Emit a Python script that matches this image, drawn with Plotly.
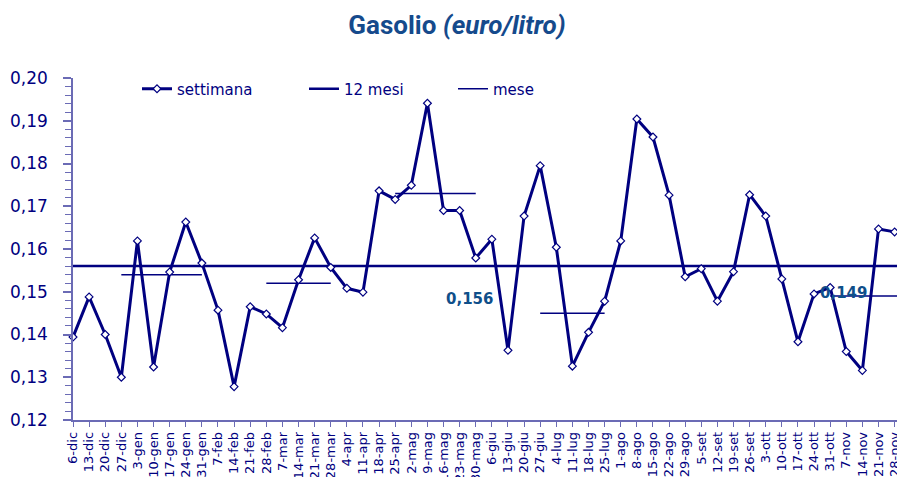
import plotly.graph_objects as go

categories = ["6-dic", "13-dic", "20-dic", "27-dic", "3-gen", "10-gen", "17-gen", "24-gen", "31-gen",
              "7-feb", "14-feb", "21-feb", "28-feb", "7-mar", "14-mar", "21-mar", "28-mar",
              "4-apr", "11-apr", "18-apr", "25-apr", "2-mag", "9-mag", "16-mag", "23-mag", "30-mag",
              "6-giu", "13-giu", "20-giu", "27-giu", "4-lug", "11-lug", "18-lug", "25-lug",
              "1-ago", "8-ago", "15-ago", "22-ago", "29-ago", "5-set", "12-set", "19-set", "26-set",
              "3-ott", "10-ott", "17-ott", "24-ott", "31-ott", "7-nov", "14-nov", "21-nov", "28-nov"]

settimana = [0.1394, 0.1488, 0.1400, 0.1300, 0.1619, 0.1324, 0.1546, 0.1663, 0.1567,
             0.1457, 0.1278, 0.1465, 0.1448, 0.1416, 0.1528, 0.1626, 0.1557,
             0.1508, 0.1499, 0.1736, 0.1716, 0.1749, 0.1941, 0.1690, 0.1690, 0.1579,
             0.1623, 0.1363, 0.1677, 0.1795, 0.1604, 0.1326, 0.1405, 0.1478,
             0.1619, 0.1904, 0.1862, 0.1726, 0.1535, 0.1554, 0.1478, 0.1547, 0.1727,
             0.1677, 0.1530, 0.1383, 0.1495, 0.1510, 0.1360, 0.1316, 0.1647, 0.1640]

media_12_mesi = 0.156

# monthly averages: (first week, last week, value)
mese_start = ["27-dic", "28-feb", "25-apr", "27-giu", "31-ott"]
mese_end = ["31-gen", "28-mar", "30-mag", "25-lug", "28-nov"]
mese_val = [0.154, 0.152, 0.173, 0.145, 0.149]

label_12 = "0,156"
label_mese = "0,149"

NAVY = "#000080"
AXIS = "#6b6bb5"
LABEL = "#0f4f8a"

W, H = 897, 477
PLOT_L, PLOT_T, PLOT_B = 73, 78, 420          # page pixels
PW, PH = W - PLOT_L, PLOT_B - PLOT_T


def px(xpage):
    return (xpage - PLOT_L) / PW


def py(ypage):
    return (PLOT_B - ypage) / PH


fig = go.Figure()

n = len(categories)
idx = list(range(n))
xr = [0, PW / 16.11]

# 12 mesi line
fig.add_trace(go.Scatter(
    x=[-1, n + 1], y=[media_12_mesi, media_12_mesi],
    mode="lines", line=dict(color=NAVY, width=2.5), name="12 mesi",
    showlegend=False, hoverinfo="skip"))

# monthly segments
for s, e, v in zip(mese_start, mese_end, mese_val):
    x_end = categories.index(e)
    if e == categories[-1]:
        x_end = n + 1
    fig.add_trace(go.Scatter(
        x=[categories.index(s), x_end], y=[v, v],
        mode="lines", line=dict(color=NAVY, width=1.5), name="mese",
        showlegend=False, hoverinfo="skip"))

fig.add_trace(go.Scatter(
    x=idx, y=settimana, mode="lines+markers", name="settimana",
    text=categories, hovertemplate="%{text}: %{y}<extra></extra>",
    line=dict(color=NAVY, width=3),
    marker=dict(symbol="diamond", size=6, color="white", line=dict(color=NAVY, width=1.2)),
    showlegend=True, legend="legend", cliponaxis=False))

# legend entries
fig.add_trace(go.Scatter(x=[None], y=[None], mode="lines", name="12 mesi",
                         line=dict(color=NAVY, width=2.5), legend="legend2"))
fig.add_trace(go.Scatter(x=[None], y=[None], mode="lines", name="mese",
                         line=dict(color=NAVY, width=1.5), legend="legend3"))

leg_font = dict(family="DejaVu Sans", size=15, color=NAVY)
leg_y = py(89)


def leg(xpage):
    return dict(orientation="h", x=px(xpage), y=leg_y, xanchor="left", yanchor="middle",
                font=leg_font, bgcolor="rgba(0,0,0,0)", itemwidth=30)


fig.update_layout(
    width=W, height=H,
    margin=dict(l=PLOT_L, r=0, t=PLOT_T, b=H - PLOT_B, autoexpand=False),
    paper_bgcolor="white", plot_bgcolor="white",
    title=dict(text="<b>Gasolio <i>(euro/litro)</i></b>", x=457 / W, xref="container",
               y=1 - 25 / H, yref="container", xanchor="center", yanchor="middle",
               font=dict(family="Roboto", size=26, color="#154a8c")),
    showlegend=True,
    legend=leg(137),
    legend2=leg(304),
    legend3=leg(453),
    xaxis=dict(type="linear", range=xr, showgrid=False, zeroline=False,
               tickmode="array", tickvals=idx, ticktext=categories,
               showline=True, linecolor=AXIS, linewidth=1.5,
               ticks="outside", ticklen=5, tickcolor=AXIS, tickwidth=1,
               tickangle=-90, tickfont=dict(family="DejaVu Sans", size=13, color=NAVY),
               ticklabeloverflow="allow",
               automargin=False),
    yaxis=dict(range=[0.12, 0.20], dtick=0.01, tickformat=".2f",
               showgrid=False, zeroline=False, showline=True, linecolor=AXIS, linewidth=1.5,
               ticks="outside", ticklen=8, tickcolor=AXIS, tickwidth=1.5,
               ticklabelstandoff=12,
               minor=dict(dtick=0.002, ticks="outside", ticklen=6, tickcolor=AXIS, tickwidth=1),
               tickfont=dict(family="DejaVu Sans", size=17, color=NAVY),
               automargin=False),
    separators=",.",
    annotations=[
        dict(text="<b>" + label_12 + "</b>", xref="paper", yref="paper",
             x=px(469), y=py(299), xanchor="center", showarrow=False,
             font=dict(family="DejaVu Sans", size=15, color=LABEL)),
        dict(text="<b>" + label_mese + "</b>", xref="paper", yref="paper",
             x=px(818), y=py(293), xanchor="left", showarrow=False,
             font=dict(family="DejaVu Sans", size=15, color=LABEL)),
    ],
)

fig.write_html("out.html",
               config={"displayModeBar": False},
               post_script="document.body.style.margin='0px';"
                           "document.body.style.overflow='hidden';")
